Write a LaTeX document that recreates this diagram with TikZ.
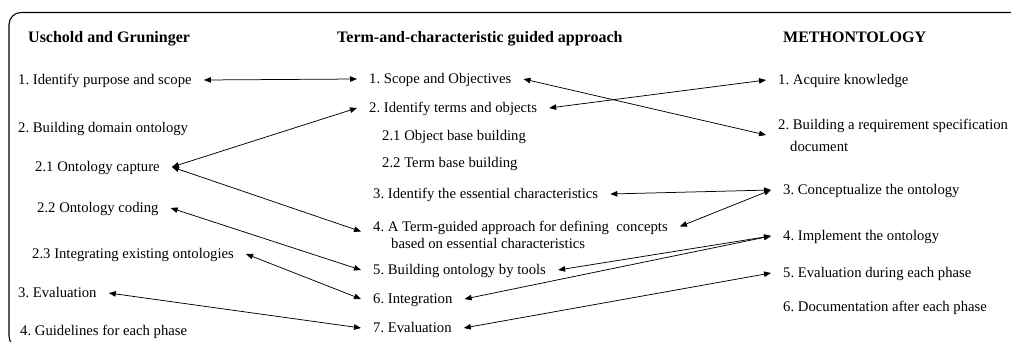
\documentclass[tikz,border=0pt]{standalone}
\usepackage{fontspec}
\setmainfont{Liberation Serif}
\usetikzlibrary{arrows.meta}
\newcommand\bodyfnt{\fontsize{14.7}{17}\selectfont\frenchspacing}
\newcommand\headfnt{\fontsize{16}{19}\selectfont\bfseries\frenchspacing}
\begin{document}
\begin{tikzpicture}[x=1pt,y=-1pt,
  head/.style={font=\headfnt, inner sep=0pt, anchor=base west},
  item/.style={font=\bodyfnt, inner xsep=12pt, inner ysep=0pt, anchor=base west, text height=9pt, text depth=0pt},
  twoline/.style={font=\bodyfnt, inner xsep=12pt, inner ysep=0pt, anchor=west, align=left},
  link/.style={{Triangle[length=7pt,width=5.5pt]}-{Triangle[length=7pt,width=5.5pt]}, line width=0.75pt}
]
\useasboundingbox (0,0) rectangle (1011,342);
\clip (0,0) rectangle (1011,342);
% frame (open on the right, cropped at the bottom)
\draw[line width=1.1pt, rounded corners=12pt] (1030,12.5) -- (9,12.5) -- (9,348) -- (1030,348);

% headers
\node[head] (H1) at (28,43) {Uschold and Gruninger};
\node[head] (H2) at (337,43) {Term-and-characteristic guided approach};
\node[head] (H3) at (783,43) {METHONTOLOGY};

% left column
\node[item] (L1)  at (6,84.5)  {1. Identify purpose and scope};
\node[item] (L2)  at (6,132.5) {2. Building domain ontology};
\node[item] (L21) at (23,171.5) {2.1 Ontology capture};
\node[item] (L22) at (25,212.5) {2.2 Ontology coding};
\node[item] (L23) at (20,258.5) {2.3 Integrating existing ontologies};
\node[item] (L3)  at (6,297.5) {3. Evaluation};
\node[item] (L4)  at (8,335.5) {4. Guidelines for each phase};

% middle column
\node[item] (M1)  at (357,83.5)  {1. Scope and Objectives};
\node[item] (M2)  at (357,112.5) {2. Identify terms and objects};
\node[item] (M21) at (370,140.5) {2.1 Object base building};
\node[item] (M22) at (370,167.5) {2.2 Term base building};
\node[item] (M3)  at (361,198.5) {3. Identify the essential characteristics};
\node[twoline] (M4) at (361,234.5) {4. A Term-guided approach for defining~ concepts\\\hspace*{18pt}based on essential characteristics};
\node[item] (M5)  at (361,274.5) {5. Building ontology by tools};
\node[item] (M6)  at (361,303.5) {6. Integration};
\node[item] (M7)  at (361,332.5) {7. Evaluation};

% right column
\node[item] (R1)  at (766,84.5)  {1. Acquire knowledge};
\node[twoline] (R2) at (766,135) {2. Building a requirement specification\\[5pt]\hspace*{12pt}document};
\node[item] (R3)  at (771,194.5) {3. Conceptualize the ontology};
\node[item] (R4)  at (771,240.5) {4. Implement the ontology};
\node[item] (R5)  at (771,277.5) {5. Evaluation during each phase};
\node[item] (R6)  at (771,311.5) {6. Documentation after each phase};

% connectors left-middle
\draw[link] (L1.east) -- (M1.west);
\draw[link] (L21.east) -- (M2.west);
\draw[link] (L21.east) -- ([yshift=3pt]M4.west);
\draw[link] (L22.east) -- (M5.west);
\draw[link] (L23.east) -- (M6.west);
\draw[link] (L3.east) -- (M7.west);

% connectors middle-right
\draw[link] (M1.east) -- (R2.west);
\draw[link] (M2.east) -- (R1.west);
\draw[link] (M3.east) -- (R3.west);
\draw[link] ([yshift=8pt]M4.east) -- (R3.west);
\draw[link] (M5.east) -- (R4.west);
\draw[link] (M6.east) -- (R4.west);
\draw[link] (M7.east) -- (R5.west);
\end{tikzpicture}
\end{document}
